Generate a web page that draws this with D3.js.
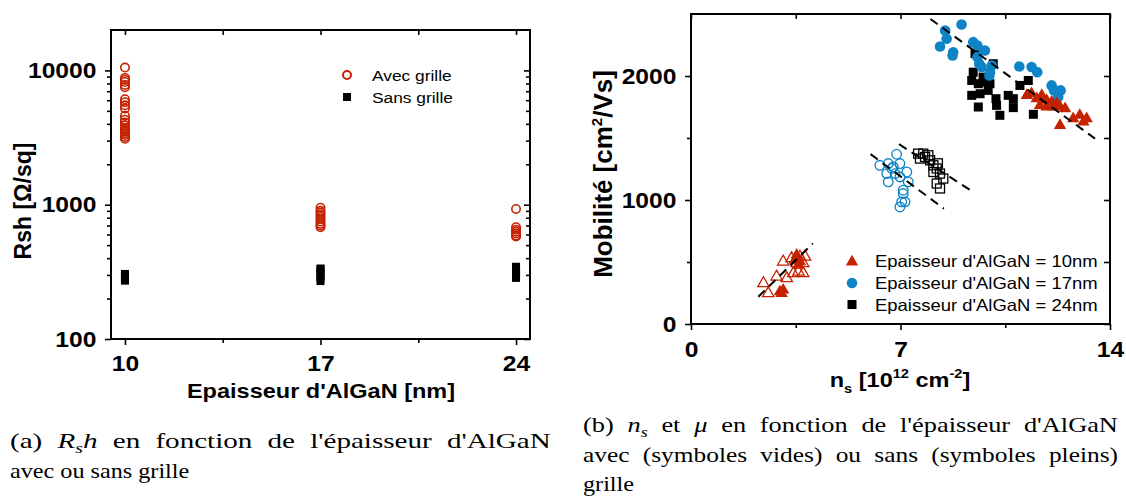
<!DOCTYPE html>
<html>
<head>
<meta charset="utf-8">
<script src="https://cdn.jsdelivr.net/npm/d3@7"></script>
<style>
	body { margin: 0; background: #fff; }
</style>
</head>
<body>
<div id="js_chart"></div>
<script>
/*globals d3*/
'use strict';

// ---- (a) Rsh versus AlGaN thickness
const thickness = [10, 17, 24];
const thicknessTicks = [10, 17, 24];
const rshTicks = [100, 1000, 10000];
const rshAvec10 = [10500, 8800, 8500, 8200, 7800, 7500, 6100, 5800, 5500, 5200, 4600, 4300, 4100, 3900, 3700, 3600, 3500, 3400, 3300, 3200, 3100];
const rshAvec17 = [950, 900, 870, 840, 810, 780, 750, 720, 700, 680];
const rshAvec24 = [930, 680, 650, 630, 610, 590, 580];
const rshSans10 = [272, 280, 290, 300, 305];
const rshSans17 = [270, 285, 300, 315, 330, 335];
const rshSans24 = [285, 300, 315, 330, 345];
const legendA = ['Avec grille', 'Sans grille'];

// ---- (b) mobility versus ns, [ns, mu] pairs
const nsTicks = [0, 7, 14];
const muTicks = [0, 1000, 2000];
const pts10Sans = [[11.22, 1844], [11.38, 1857], [11.55, 1817], [11.72, 1844], [11.88, 1804], [12.05, 1790], [12.22, 1777],
	[12.33, 1750], [12.50, 1737], [11.66, 1763], [12.10, 1750], [11.88, 1750], [12.33, 1602], [12.77, 1656], [12.99, 1683],
	[13.22, 1656], [13.11, 1629], [3.53, 556], [3.47, 515], [3.64, 502], [3.59, 475], [2.97, 260], [3.08, 274], [3.03, 247]];
const pts17Sans = [[9.04, 2415], [8.49, 2367], [8.54, 2300], [8.32, 2238], [8.76, 2192], [8.74, 2166], [9.43, 2273],
	[9.57, 2246], [9.82, 2206], [9.57, 2152], [9.63, 2099], [9.71, 2072], [10.05, 2085], [9.99, 2031], [9.97, 2005],
	[10.97, 2077], [11.38, 2072], [11.57, 2031], [12.05, 1924], [12.13, 1884], [12.35, 1884], [12.27, 1830]];
const pts24Sans = [[9.49, 2180], [9.43, 2031], [9.38, 1964], [9.60, 1938], [9.38, 1844], [9.66, 1857], [9.86, 1951],
	[9.93, 1884], [10.10, 2099], [10.19, 1817], [9.60, 1750], [10.21, 1763], [10.60, 1844], [10.77, 1817], [10.77, 1745],
	[10.32, 1683], [10.99, 1924], [11.27, 1964], [11.44, 1691], [9.99, 1938], [9.76, 1991]];
const pts10Avec = [[3.08, 502], [3.36, 529], [3.64, 542], [3.81, 542], [3.53, 489], [3.75, 489], [2.86, 381], [3.20, 368],
	[2.42, 328], [2.58, 247], [3.59, 421], [3.75, 408], [3.42, 408]];
const pts17Avec = [[6.87, 1369], [6.31, 1280], [6.59, 1294], [6.76, 1267], [6.98, 1294], [6.54, 1213], [6.82, 1213],
	[7.21, 1226], [6.59, 1146], [6.98, 1186], [7.26, 1146], [7.09, 1079], [7.09, 1052], [7.04, 985], [6.98, 944],
	[7.15, 985], [6.71, 1254]];
const pts24Avec = [[7.59, 1374], [7.76, 1374], [7.93, 1361], [7.65, 1334], [7.99, 1320], [8.10, 1280], [8.21, 1254],
	[8.10, 1226], [8.32, 1213], [8.43, 1173], [8.21, 1133], [8.32, 1093], [7.82, 1347], [8.25, 1296]];
// dashed guide lines, end points [ns, mu]
const fitSans = [[8.0, 2460], [13.5, 1495]];
const fit10Avec = [[2.25, 220], [4.07, 650]];
const fit17Avec = [[6.0, 1370], [8.45, 930]];
const fit24Avec = [[6.95, 1450], [9.33, 1080]];
const legendB = ['Epaisseur d\'AlGaN = 10nm', 'Epaisseur d\'AlGaN = 17nm', 'Epaisseur d\'AlGaN = 24nm'];

const red = '#c42200';
const blue = '#0e84c6';
const black = '#000';
const SANS = '\'Liberation Sans\', Arimo, Arial, sans-serif';
const SERIF = '\'Liberation Serif\', Tinos, \'Times New Roman\', Times, serif';
const SX = 1.12; // the source figure is slightly stretched horizontally

const svg = d3.select('#js_chart').append('svg')
	.attr('width', 1126)
	.attr('height', 498)
	.style('font-family', SANS);

function hText(g, x, y, str, size, anchor, weight) {
	return g.append('text')
		.attr('transform', 'translate(' + x + ',' + y + ') scale(' + SX + ',1)')
		.attr('text-anchor', anchor || 'start')
		.style('font-family', SANS)
		.style('font-size', size + 'px')
		.style('font-weight', weight || 'normal')
		.text(str);
}

function styleAxis(g, labels) {
	g.select('.domain').remove();
	g.selectAll('line').attr('stroke', black).attr('stroke-width', 1.6);
	g.selectAll('text')
		.attr('fill', black)
		.style('font-size', '22px')
		.style('font-weight', 'bold')
		.style('font-family', SANS)
		.attr('transform', 'scale(' + SX + ',1)');
	if (!labels) g.selectAll('text').remove();
}

function frame(g, x0, y0, x1, y1) {
	g.append('rect')
		.attr('x', x0).attr('y', y0)
		.attr('width', x1 - x0).attr('height', y1 - y0)
		.attr('fill', 'none').attr('stroke', black).attr('stroke-width', 2);
}

// =============== chart (a)
(function () {
	const L = 111, R = 530, T = 30, B = 339;
	const x = d3.scaleLinear().domain([9.5, 24.5]).range([L, R]);
	const y = d3.scaleLog().domain([100, 20000]).range([B, T]);
	const g = svg.append('g');
	const minorY = [];
	[100, 1000, 10000].forEach(function (d) {
		for (let k = 2; k <= 9; k++) if (d * k < 20000) minorY.push(d * k);
	});
	const minorX = [13.5, 20.5];

	g.append('g').attr('transform', 'translate(' + L + ',0)')
		.call(d3.axisLeft(y).tickValues(rshTicks).tickFormat(d3.format('d')).tickSize(6).tickPadding(7))
		.call(styleAxis, true);
	g.append('g').attr('transform', 'translate(' + L + ',0)')
		.call(d3.axisLeft(y).tickValues(minorY).tickSize(4)).call(styleAxis, false);
	// right-hand mirror ticks point inwards
	g.append('g').attr('transform', 'translate(' + R + ',0)')
		.call(d3.axisRight(y).tickValues(rshTicks).tickSize(-6)).call(styleAxis, false);
	g.append('g').attr('transform', 'translate(' + R + ',0)')
		.call(d3.axisRight(y).tickValues(minorY).tickSize(-4)).call(styleAxis, false);
	g.append('g').attr('transform', 'translate(0,' + B + ')')
		.call(d3.axisBottom(x).tickValues(thicknessTicks).tickFormat(d3.format('d')).tickSize(6).tickPadding(10))
		.call(styleAxis, true);
	g.append('g').attr('transform', 'translate(0,' + B + ')')
		.call(d3.axisBottom(x).tickValues(minorX).tickSize(4)).call(styleAxis, false);
	g.append('g').attr('transform', 'translate(0,' + T + ')')
		.call(d3.axisBottom(x).tickValues(thicknessTicks.concat(minorX)).tickSize(5)).call(styleAxis, false);
	frame(g, L, T, R, B);

	const sans = [rshSans10, rshSans17, rshSans24];
	const avec = [rshAvec10, rshAvec17, rshAvec24];
	sans.forEach(function (vals, i) {
		g.selectAll(null).data(vals).enter().append('rect')
			.attr('x', x(thickness[i]) - 4).attr('y', function (d) { return y(d) - 4; })
			.attr('width', 8).attr('height', 8).attr('fill', black);
	});
	avec.forEach(function (vals, i) {
		g.selectAll(null).data(vals).enter().append('circle')
			.attr('cx', x(thickness[i])).attr('cy', function (d) { return y(d); })
			.attr('r', 4.2).attr('fill', 'none').attr('stroke', red).attr('stroke-width', 1.6);
	});

	// legend
	g.append('circle').attr('cx', 347).attr('cy', 75).attr('r', 4)
		.attr('fill', 'none').attr('stroke', red).attr('stroke-width', 2);
	g.append('rect').attr('x', 343).attr('y', 93).attr('width', 8).attr('height', 8).attr('fill', black);
	legendA.forEach(function (t, i) {
		hText(g, 372, 81 + i * 22, t, 15.5);
	});

	// axis titles
	g.append('text')
		.attr('transform', 'translate(31,201) rotate(-90)')
		.attr('text-anchor', 'middle')
		.style('font-size', '23px').style('font-weight', 'bold')
		.text('Rsh [Ω/sq]');
	hText(g, 321, 398, 'Epaisseur d\'AlGaN [nm]', 21, 'middle', 'bold');
})();

// =============== chart (b)
(function () {
	const L = 691, R = 1110, T = 14, B = 324;
	const x = d3.scaleLinear().domain([0, 14]).range([L, R]);
	const y = d3.scaleLinear().domain([0, 2500]).range([B, T]);
	const g = svg.append('g');
	const minorX = [3.5, 10.5];
	const minorY = [500, 1500];

	g.append('g').attr('transform', 'translate(' + L + ',0)')
		.call(d3.axisLeft(y).tickValues(muTicks).tickFormat(d3.format('d')).tickSize(6).tickPadding(7))
		.call(styleAxis, true);
	g.append('g').attr('transform', 'translate(' + L + ',0)')
		.call(d3.axisLeft(y).tickValues(minorY).tickSize(4)).call(styleAxis, false);
	g.append('g').attr('transform', 'translate(' + R + ',0)')
		.call(d3.axisRight(y).tickValues(muTicks.concat(minorY)).tickSize(-6)).call(styleAxis, false);
	g.append('g').attr('transform', 'translate(0,' + B + ')')
		.call(d3.axisBottom(x).tickValues(nsTicks).tickFormat(d3.format('d')).tickSize(6).tickPadding(11))
		.call(styleAxis, true);
	g.append('g').attr('transform', 'translate(0,' + B + ')')
		.call(d3.axisBottom(x).tickValues(minorX).tickSize(4)).call(styleAxis, false);
	g.append('g').attr('transform', 'translate(0,' + T + ')')
		.call(d3.axisBottom(x).tickValues(nsTicks.concat(minorX)).tickSize(5)).call(styleAxis, false);
	frame(g, L, T, R, B);

	const tri = d3.symbol().type(d3.symbolTriangle);
	function squares(pts, filled) {
		g.selectAll(null).data(pts).enter().append('rect')
			.attr('x', function (d) { return x(d[0]) - 4.5; })
			.attr('y', function (d) { return y(d[1]) - 4.5; })
			.attr('width', 9).attr('height', 9)
			.attr('fill', filled ? black : 'none')
			.attr('stroke', black).attr('stroke-width', filled ? 0 : 1.3);
	}
	function circles(pts, filled) {
		g.selectAll(null).data(pts).enter().append('circle')
			.attr('cx', function (d) { return x(d[0]); })
			.attr('cy', function (d) { return y(d[1]); })
			.attr('r', filled ? 5.3 : 4.8)
			.attr('fill', filled ? blue : 'none')
			.attr('stroke', blue).attr('stroke-width', filled ? 0 : 1.3);
	}
	function triangles(pts, filled) {
		g.selectAll(null).data(pts).enter().append('path')
			.attr('d', tri.size(filled ? 66 : 56)())
			.attr('transform', function (d) { return 'translate(' + x(d[0]) + ',' + y(d[1]) + ')'; })
			.attr('fill', filled ? red : 'none')
			.attr('stroke', red).attr('stroke-width', filled ? 0 : 1.3);
	}
	squares(pts24Avec, false);
	circles(pts17Avec, false);
	triangles(pts10Avec, false);
	squares(pts24Sans, true);
	circles(pts17Sans, true);
	triangles(pts10Sans, true);

	const line = d3.line().x(function (d) { return x(d[0]); }).y(function (d) { return y(d[1]); });
	[fitSans, fit10Avec, fit17Avec, fit24Avec].forEach(function (f) {
		g.append('path').attr('d', line(f))
			.attr('fill', 'none').attr('stroke', black)
			.attr('stroke-width', 2).attr('stroke-dasharray', '9,6');
	});

	// legend
	const lx = 852;
	g.append('path').attr('d', tri.size(66)()).attr('transform', 'translate(' + lx + ',262)').attr('fill', red);
	g.append('circle').attr('cx', lx).attr('cy', 283).attr('r', 5.3).attr('fill', blue);
	g.append('rect').attr('x', lx - 4.5).attr('y', 300).attr('width', 9).attr('height', 9).attr('fill', black);
	legendB.forEach(function (t, i) {
		hText(g, 875, 267 + i * 22, t, 16.5);
	});

	// axis titles
	const yt = g.append('text')
		.attr('transform', 'translate(612,174) rotate(-90)')
		.attr('text-anchor', 'middle')
		.style('font-size', '26px').style('font-weight', 'bold');
	yt.append('tspan').text('Mobilité [cm');
	yt.append('tspan').attr('dy', -10).style('font-size', '15px').text('2');
	yt.append('tspan').attr('dy', 10).text('/Vs]');

	const xt = g.append('text')
		.attr('transform', 'translate(900,387) scale(' + SX + ',1)')
		.attr('text-anchor', 'middle')
		.style('font-size', '21px').style('font-weight', 'bold');
	xt.append('tspan').text('n');
	xt.append('tspan').attr('dy', 6).style('font-size', '13px').text('s');
	xt.append('tspan').attr('dy', -6).text(' [10');
	xt.append('tspan').attr('dy', -9).style('font-size', '13px').text('12');
	xt.append('tspan').attr('dy', 9).text(' cm');
	xt.append('tspan').attr('dy', -9).style('font-size', '13px').text('-2');
	xt.append('tspan').attr('dy', 9).text(']');
})();

// =============== captions: justified lines get a little extra word spacing,
// the rest of the width is taken up by widening the glyphs of that line
(function () {
	const g = svg.append('g');
	const CSX = 1.1; // Computer Modern is wider than Times
	const GAP = 6;
	function capLine(x, y, width, justify, parts) {
		const t = g.append('text')
			.style('font-family', SERIF).style('font-size', '22px');
		parts.forEach(function (p) {
			const s = t.append('tspan').text(p.t);
			if (p.i) s.style('font-style', 'italic');
			if (p.sub) s.attr('dy', 5).style('font-size', '15px');
			if (p.back) s.attr('dy', -5);
		});
		let sx = CSX;
		if (justify) {
			const spaces = t.text().split(' ').length - 1;
			const natural = t.node().getComputedTextLength();
			t.style('word-spacing', GAP + 'px');
			sx = width / (natural + spaces * GAP);
		}
		t.attr('transform', 'translate(' + x + ',' + y + ') scale(' + sx + ',1)');
		return t;
	}
	capLine(10, 448, 541, true, [
		{ t: '(a) ' }, { t: 'R', i: true }, { t: 's', i: true, sub: true },
		{ t: 'h', i: true, back: true }, { t: ' en fonction de l\'épaisseur d\'AlGaN' }
	]);
	capLine(10, 478, 178, false, [{ t: 'avec ou sans grille' }]);
	capLine(583, 432, 535, true, [
		{ t: '(b) ' }, { t: 'n', i: true }, { t: 's', i: true, sub: true },
		{ t: ' et ', back: true }, { t: 'μ', i: true }, { t: ' en fonction de l\'épaisseur d\'AlGaN' }
	]);
	capLine(583, 462, 535, true, [{ t: 'avec (symboles vides) ou sans (symboles pleins)' }]);
	capLine(583, 491, 55, false, [{ t: 'grille' }]);
})();
</script>
</body>
</html>
